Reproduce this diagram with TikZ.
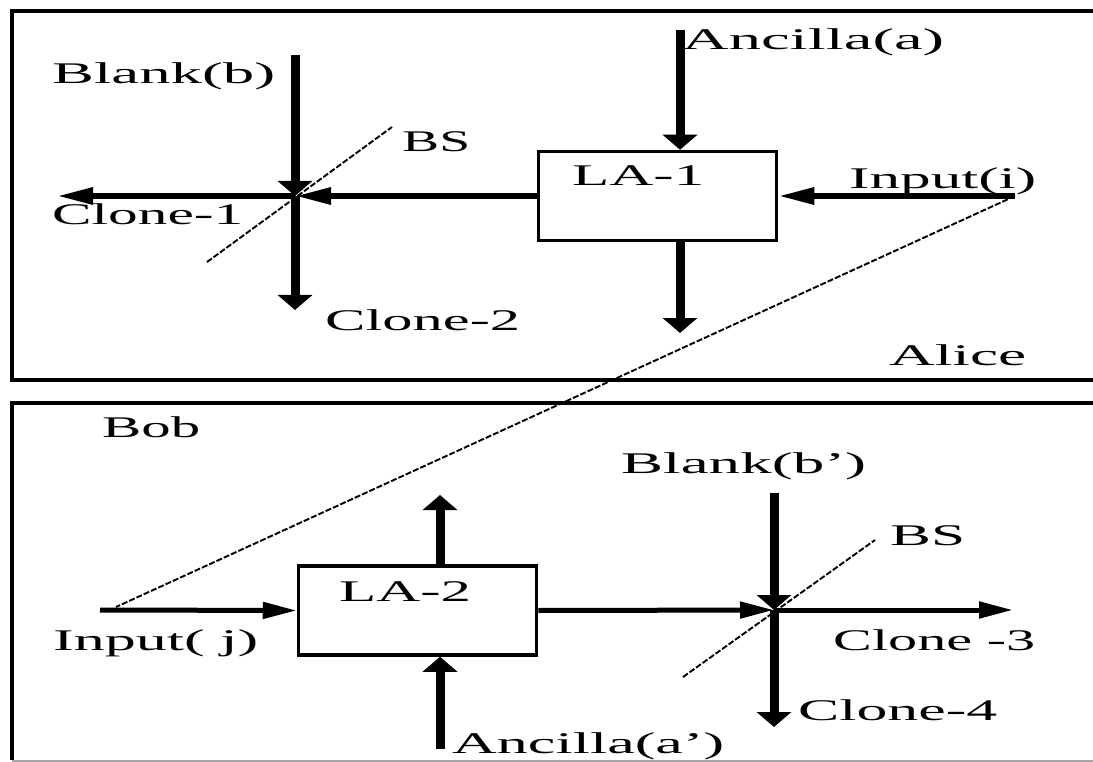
\documentclass[tikz,border=0pt]{standalone}
\usepackage{fontspec}
\setmainfont{Liberation Serif}
\usetikzlibrary{arrows.meta}
\newcommand{\wlbl}[2]{\resizebox{#1pt}{\height}{#2}}
\begin{document}
\begin{tikzpicture}[x=1pt,y=-1pt,
  lbl/.style={inner sep=0pt, anchor=base west, font=\fontsize{30}{32}\selectfont},
  frame/.style={line width=3.5pt},
  labox/.style={draw, line width=3.5pt, inner sep=0pt, minimum width=238pt, minimum height=89pt},
  hthick/.style={line width=6pt, -{Triangle[length=36pt,width=16pt]}},
  hmed/.style={line width=5pt, -{Triangle[length=34pt,width=16pt]}},
  vthick/.style={line width=9pt, -{Triangle[length=15pt,width=34pt]}},
  bsline/.style={line width=1.9pt, dash pattern=on 6pt off 2pt},
]
\useasboundingbox (0,0) rectangle (1093,762);
\clip (0,0) rectangle (1093,762);
\fill[white] (0,0) rectangle (1093,762);
% frames
\draw[frame] (1110,11) -- (12,11) -- (12,380) -- (1110,380);
\draw[frame] (1110,403) -- (12,403) -- (12,760);
\draw[line width=2pt, black!35] (12,760.5) -- (1110,760.5);

% ---------- Alice ----------
\node[labox] (LA1) at (657.5,196) {};
\node[lbl] (la1t) at (572,186) {\wlbl{132}{LA-1}};
\coordinate (anc1) at (680,30);
\coordinate (out1) at (680,333);
\coordinate (in1) at (1015,196);
\coordinate (bs1) at (295,196);
\coordinate (blank1) at (295,55);
\coordinate (clone1) at (57,196);
\coordinate (clone2) at (295,310);
\coordinate (bsa1) at (207,262);
\coordinate (bsb1) at (392,127);

\draw[vthick] (anc1) -- (anc1 |- LA1.north);
\draw[vthick] (LA1.south -| anc1) -- (out1);
\draw[hthick] (in1) -- (LA1.east);
\draw[hthick] (LA1.west) -- (bs1);
\draw[hthick] (bs1) -- (clone1);
\draw[vthick] (blank1) -- (bs1);
\draw[vthick] (bs1) -- (clone2);
\draw[bsline] (bsa1) -- (bsb1);

\node[lbl] (tblank) at (52,84) {\wlbl{223}{Blank(b)}};
\node[lbl] (tbs1) at (402,152) {\wlbl{68}{BS}};
\node[lbl] (tclone1) at (52,225) {\wlbl{191}{Clone-1}};
\node[lbl] (tclone2) at (325,330) {\wlbl{195}{Clone-2}};
\node[lbl] (tanc1) at (682,50) {\wlbl{262}{Ancilla(a)}};
\node[lbl] (tin1) at (849,189) {\wlbl{187}{Input(i)}};
\node[lbl] (talice) at (889,365) {\wlbl{137}{Alice}};

% ---------- Bob ----------
\node[labox] (LA2) at (417.5,610.5) {};
\node[lbl] (la2t) at (339,601) {\wlbl{132}{LA-2}};
\coordinate (inj) at (100,610);
\coordinate (up2) at (440,495);
\coordinate (anc2) at (440,749);
\coordinate (bs2) at (774,610);
\coordinate (blank2) at (774,493);
\coordinate (clone3) at (1013,610);
\coordinate (clone4) at (774,727);
\coordinate (bsa2) at (683,677);
\coordinate (bsb2) at (875,540);

\draw[hmed] (inj) -- (LA2.west);
\draw[vthick] (LA2.north -| up2) -- (up2);
\draw[vthick] (anc2) -- (LA2.south -| anc2);
\draw[hmed] (LA2.east) -- (bs2);
\draw[hmed] (bs2) -- (clone3);
\draw[vthick] (blank2) -- (bs2);
\draw[vthick] (bs2) -- (clone4);
\draw[bsline] (bsa2) -- (bsb2);

% channel line
\draw[bsline] (in1) -- (116,607);

\node[lbl] (tbob) at (102,437) {\wlbl{98}{Bob}};
\node[lbl] (tinj) at (53,650) {\wlbl{205}{Input( j)}};
\node[lbl] (tanc2) at (452,753) {\wlbl{272}{Ancilla(a’)}};
\node[lbl] (tblank2) at (621,473) {\wlbl{245}{Blank(b’)}};
\node[lbl] (tbs2) at (890,545) {\wlbl{75}{BS}};
\node[lbl] (tclone3) at (833,650) {\wlbl{202}{Clone -3}};
\node[lbl] (tclone4) at (798,720) {\wlbl{199}{Clone-4}};
\end{tikzpicture}
\end{document}
